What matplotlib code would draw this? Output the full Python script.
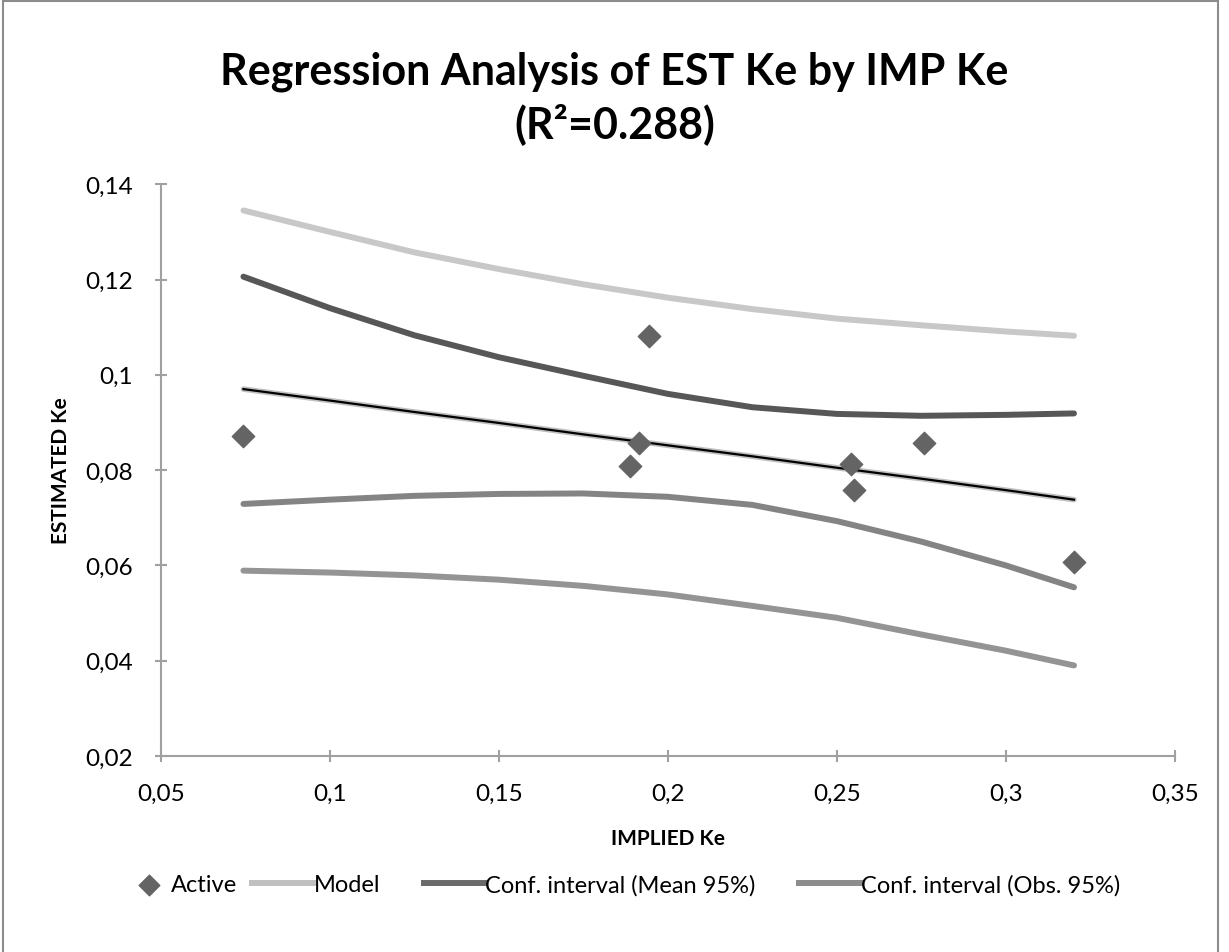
import matplotlib
matplotlib.use("Agg")
import matplotlib.pyplot as plt
from matplotlib.patches import Rectangle

plt.rcParams['font.family'] = ['Lato', 'DejaVu Sans']

# observed points (IMPLIED Ke, ESTIMATED Ke)
implied_ke = [0.0744, 0.1887, 0.1916, 0.1943, 0.2541, 0.2551, 0.2759, 0.3202]
estimated_ke = [0.0872, 0.0809, 0.0857, 0.1081, 0.0813, 0.0759, 0.0856, 0.0608]

# curves
x_curve = [0.0744, 0.1, 0.125, 0.15, 0.175, 0.2, 0.225, 0.25, 0.275, 0.3, 0.3202]
model = [0.0970, 0.0946, 0.0922, 0.0899, 0.0875, 0.0852, 0.0829, 0.0805, 0.0782, 0.0758, 0.0738]
mean_upper = [0.1206, 0.1140, 0.1083, 0.1037, 0.0998, 0.0960, 0.0932, 0.0918, 0.0914, 0.0916, 0.0919]
mean_lower = [0.0729, 0.0738, 0.0746, 0.0750, 0.0751, 0.0744, 0.0727, 0.0693, 0.0650, 0.0600, 0.0554]
obs_upper = [0.1345, 0.1300, 0.1257, 0.1222, 0.1190, 0.1162, 0.1138, 0.1118, 0.1104, 0.1091, 0.1082]
obs_lower = [0.0589, 0.0585, 0.0579, 0.0570, 0.0557, 0.0539, 0.0515, 0.0490, 0.0455, 0.0421, 0.0390]

x_ticks = [0.05, 0.1, 0.15, 0.2, 0.25, 0.3, 0.35]
x_tick_labels = ['0,05', '0,1', '0,15', '0,2', '0,25', '0,3', '0,35']
y_ticks = [0.02, 0.04, 0.06, 0.08, 0.1, 0.12, 0.14]
y_tick_labels = ['0,02', '0,04', '0,06', '0,08', '0,1', '0,12', '0,14']

fig = plt.figure(figsize=(12.29, 9.53), dpi=100)
ax = fig.add_axes([0.131, 0.2057, 0.8248, 0.5999])

lw = 4.3
ax.plot(x_curve, obs_upper, color='#c8c8c8', lw=lw, solid_capstyle='round')
ax.plot(x_curve, mean_upper, color='#575757', lw=lw, solid_capstyle='round')
ax.plot(x_curve, model, color='#c0c0c0', lw=4.0, solid_capstyle='round')
ax.plot(x_curve, model, color='black', lw=1.6)
ax.plot(x_curve, mean_lower, color='#848484', lw=lw, solid_capstyle='round')
ax.plot(x_curve, obs_lower, color='#949494', lw=lw, solid_capstyle='round')
ax.scatter(implied_ke, estimated_ke, marker='D', s=130, color='#646464', zorder=5)

ax.set_xlim(0.05, 0.35)
ax.set_ylim(0.02, 0.14)
ax.set_xticks(x_ticks)
ax.set_xticklabels(x_tick_labels)
ax.set_yticks(y_ticks)
ax.set_yticklabels(y_tick_labels)

for s in ['top', 'right']:
    ax.spines[s].set_visible(False)
for s in ['left', 'bottom']:
    ax.spines[s].set_color('#a0a0a0')
    ax.spines[s].set_linewidth(1.5)
ax.tick_params(direction='inout', length=9, width=1.5, color='#a0a0a0',
               labelsize=17.5, labelcolor='black')
ax.tick_params(axis='x', pad=15)
ax.tick_params(axis='y', pad=16)

ax.set_xlabel('IMPLIED Ke', fontsize=15, fontweight='bold', labelpad=17)
ax.set_ylabel('ESTIMATED Ke', fontsize=15, fontweight='bold', labelpad=10)

fig.text(0.500, 0.897, 'Regression Analysis of EST Ke by IMP Ke\n(R²=0.288)',
         ha='center', va='center', fontsize=31, fontweight='bold', linespacing=1.3)

# legend entries in the order of the chart
h_active = ax.scatter([], [], marker='D', s=110, color='#646464')
h_model, = ax.plot([], [], color='#c0c0c0', lw=lw)
h_mean, = ax.plot([], [], color='#6a6a6a', lw=lw)
h_obs, = ax.plot([], [], color='#8c8c8c', lw=lw)
fig.legend([h_active], ['Active'], loc='center left', bbox_to_anchor=(0.094, 0.071),
           frameon=False, fontsize=17, handlelength=1.0, handletextpad=0.45)
fig.legend([h_model, h_mean, h_obs],
           ['Model', 'Conf. interval (Mean 95%)', 'Conf. interval (Obs. 95%)'],
           loc='center left', bbox_to_anchor=(0.188, 0.071), ncol=3, frameon=False,
           fontsize=17, handlelength=2.6, handletextpad=0.0, columnspacing=1.85)

# chart frame
fig.patches.append(Rectangle((3 / 1229, -0.05), 1215 / 1229, 1.05 - 2 / 953,
                             transform=fig.transFigure, fill=False,
                             edgecolor='#8c8c8c', lw=1.5))

fig.savefig('out.png', dpi=100)
